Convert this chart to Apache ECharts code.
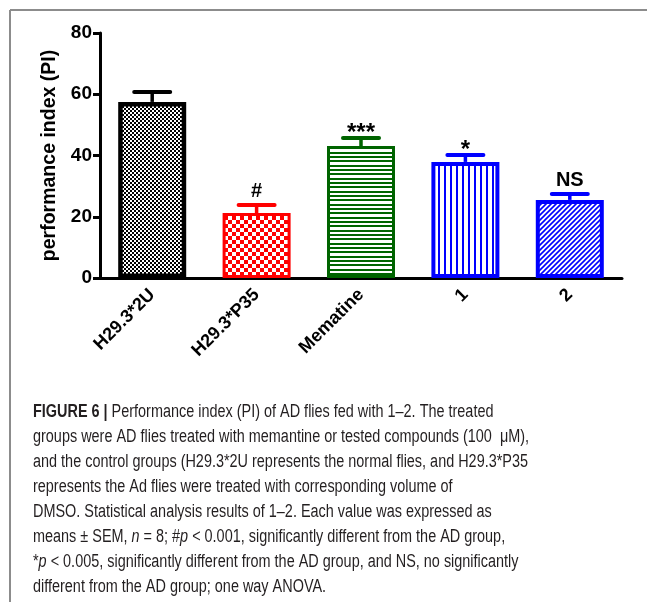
<!DOCTYPE html>
<html>
<head>
<meta charset="utf-8">
<script src="https://cdn.jsdelivr.net/npm/echarts@6/dist/echarts.min.js"></script>
<style>
html,body{margin:0;padding:0;background:#fff;}
#chart{width:647px;height:602px;}
</style>
</head>
<body>
<div id="chart"></div>
<script>
// ---- data ----
const categories = ['H29.3*2U', 'H29.3*P35', 'Mematine', '1', '2'];
const means = [57.5, 21.2, 43.1, 37.9, 25.5];
const sem = [3.2, 2.6, 2.6, 2.3, 1.9];
const signif = ['', '#', '***', '*', 'NS'];
const yTicks = { min: 0, max: 80, interval: 20 };
const yTitle = 'performance index (PI)';
const captionLines = [
  '{b|FIGURE 6 |} Performance index (PI) of AD flies fed with 1–2. The treated',
  'groups were AD flies treated with memantine or tested compounds (100  μM),',
  'and the control groups (H29.3*2U represents the normal flies, and H29.3*P35',
  'represents the Ad flies were treated with corresponding volume of',
  'DMSO. Statistical analysis results of 1–2. Each value was expressed as',
  'means ± SEM, {i|n} = 8; #{i|p} < 0.001, significantly different from the AD group,',
  '*{i|p} < 0.005, significantly different from the AD group, and NS, no significantly',
  'different from the AD group; one way ANOVA.'
];

// ---- styles ----
const colors = ['#000000', '#ff0000', '#006400', '#0000ff', '#0000ff'];
const borderWidths = [4.5, 3, 3, 4, 4];
const patternTypes = ['fineChecker', 'checker', 'hlines', 'vlines', 'diag'];

function makePattern(type, color) {
  const c = document.createElement('canvas');
  let w = 4, h = 4;
  if (type === 'fineChecker') { w = 4; h = 4; }
  if (type === 'checker') { w = 8; h = 8; }
  if (type === 'hlines') { w = 4; h = 13; }
  if (type === 'vlines') { w = 6; h = 4; }
  if (type === 'diag') { w = 5; h = 5; }
  c.width = w; c.height = h;
  const ctx = c.getContext('2d');
  ctx.fillStyle = '#ffffff';
  ctx.fillRect(0, 0, w, h);
  ctx.fillStyle = color;
  ctx.strokeStyle = color;
  if (type === 'fineChecker') { ctx.fillRect(0, 0, 2, 2); ctx.fillRect(2, 2, 2, 2); }
  if (type === 'checker') { ctx.fillRect(0, 0, 4, 4); ctx.fillRect(4, 4, 4, 4); }
  if (type === 'hlines') { ctx.fillRect(0, 0, w, 2); ctx.fillRect(0, 4, w, 2); ctx.fillRect(0, 9, w, 2); }
  if (type === 'vlines') { ctx.fillRect(0, 0, 2, h); }
  if (type === 'diag') {
    ctx.lineWidth = 1.6;
    ctx.beginPath();
    ctx.moveTo(-1, h + 1); ctx.lineTo(w + 1, -1);
    ctx.moveTo(-2, 2); ctx.lineTo(2, -2);
    ctx.moveTo(w - 2, h + 2); ctx.lineTo(w + 2, h - 2);
    ctx.stroke();
  }
  return { image: c, repeat: 'repeat' };
}

const barData = means.map((v, i) => ({
  value: v,
  itemStyle: {
    color: makePattern(patternTypes[i], colors[i]),
    borderColor: colors[i],
    borderWidth: borderWidths[i]
  }
}));

const errData = means.map((v, i) => [i, v, sem[i]]);

// caption scaling to match condensed font
const capFont = '18px "Liberation Sans", Arial, sans-serif';
const mctx = document.createElement('canvas').getContext('2d');
mctx.font = capFont;
const refW = mctx.measureText(captionLines[2]).width;
const capScale = 495 / refW;

const captionGraphics = captionLines.map((t, k) => ({
  type: 'text',
  x: 33,
  y: 412 + k * 25,
  scaleX: capScale,
  style: {
    text: t,
    fill: '#231f20',
    fontSize: 18,
    fontFamily: '"Liberation Sans", Arial, sans-serif',
    textAlign: 'left',
    textVerticalAlign: 'middle',
    rich: {
      b: { fontWeight: 'bold', fontSize: 18, fontFamily: '"Liberation Sans", Arial, sans-serif', fill: '#231f20' },
      i: { fontStyle: 'italic', fontSize: 18, fontFamily: '"Liberation Sans", Arial, sans-serif', fill: '#231f20' }
    }
  }
}));

const chart = echarts.init(document.getElementById('chart'), null, { renderer: 'canvas' });
const fam = '"Liberation Sans", Arial, sans-serif';
const option = {
  animation: false,
  backgroundColor: '#ffffff',
  grid: { left: 100, right: 25, top: 33, bottom: 324 },
  xAxis: {
    type: 'category',
    data: categories,
    axisLine: { lineStyle: { color: '#000', width: 3 } },
    axisTick: { alignWithLabel: true, length: 7, lineStyle: { color: '#000', width: 3 } },
    axisLabel: { rotate: 45, fontSize: 18, fontWeight: 'bold', color: '#000', margin: 14, fontFamily: fam }
  },
  yAxis: {
    type: 'value',
    min: yTicks.min, max: yTicks.max, interval: yTicks.interval,
    splitLine: { show: false },
    axisLine: { show: true, lineStyle: { color: '#000', width: 3 } },
    axisTick: { show: true, length: 7, lineStyle: { color: '#000', width: 3 } },
    axisLabel: { fontSize: 19, fontWeight: 'bold', color: '#000', margin: 8, fontFamily: fam },
    name: yTitle,
    nameLocation: 'middle',
    nameGap: 38,
    nameTextStyle: { fontSize: 19.5, fontWeight: 'bold', color: '#000', fontFamily: fam }
  },
  series: [
    {
      type: 'bar',
      data: barData,
      barWidth: 68,
      z: 2
    },
    {
      type: 'custom',
      z: 3,
      data: errData,
      renderItem: function (params, api) {
        const i = api.value(0);
        const m = api.value(1);
        const e = api.value(2);
        const lab = signif[params.dataIndex];
        const base = api.coord([i, m]);
        const top = api.coord([i, m + e]);
        const col = colors[params.dataIndex];
        const children = [
          { type: 'line', shape: { x1: base[0], y1: base[1], x2: top[0], y2: top[1] }, style: { stroke: col, lineWidth: 3.5 } },
          { type: 'line', shape: { x1: top[0] - 18, y1: top[1], x2: top[0] + 18, y2: top[1] }, style: { stroke: col, lineWidth: 4, lineCap: 'round' } }
        ];
        if (lab) {
          const isStar = lab.indexOf('*') >= 0;
          children.push({
            type: 'text',
            x: top[0],
            y: top[1] - (isStar ? 5 : 14),
            style: {
              text: lab,
              fill: '#000',
              fontSize: isStar ? 24 : 20,
              fontWeight: 'bold',
              fontFamily: fam,
              textAlign: 'center',
              textVerticalAlign: 'middle'
            }
          });
        }
        return { type: 'group', children: children };
      }
    }
  ],
  graphic: [
    { type: 'line', shape: { x1: 10, y1: 10, x2: 647, y2: 10 }, style: { stroke: '#8c8c8c', lineWidth: 2 } },
    { type: 'line', shape: { x1: 10, y1: 10, x2: 10, y2: 602 }, style: { stroke: '#8c8c8c', lineWidth: 2 } }
  ].concat(captionGraphics)
};
chart.setOption(option);
</script>
</body>
</html>
